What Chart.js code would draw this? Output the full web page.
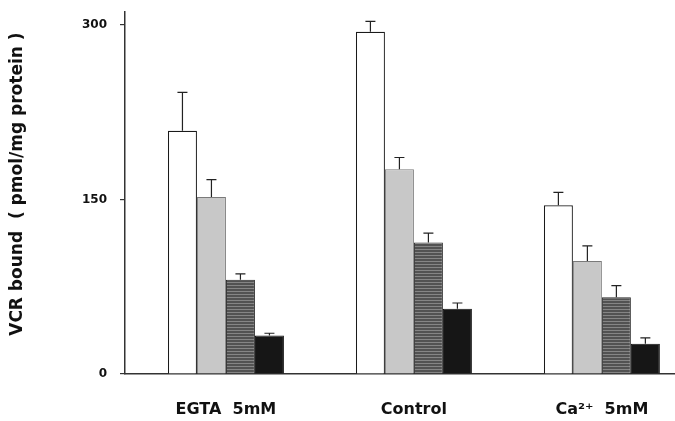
<!DOCTYPE html>
<html>
<head>
<meta charset="utf-8">
<script src="https://cdn.jsdelivr.net/npm/chart.js@4/dist/chart.umd.min.js"></script>
<style>
  html, body { margin: 0; padding: 0; background: #fff; }
  #wrap { width: 675px; height: 421px; }
</style>
</head>
<body>
<div id="wrap"><canvas id="myChart"></canvas></div>
<script>
// groups along the x axis
var categories = ['EGTA  5mM', 'Control', 'Ca\u00B2\u207A  5mM'];
var positions = [1, 2, 3];

// four bars per group, mean and upper error
var bar1 = [209, 294, 145];
var bar1Err = [33, 9, 11];
var bar2 = [152, 176, 97];
var bar2Err = [15, 10, 13];
var bar3 = [81, 113, 66];
var bar3Err = [5, 8, 10];
var bar4 = [33, 56, 26];
var bar4Err = [2, 5, 5];

var yTicks = [0, 150, 300];

function points(vals) {
  return vals.map(function (v, i) { return { x: positions[i], y: v }; });
}

// horizontal line hatch for the third bar
function hatch() {
  var c = document.createElement('canvas');
  c.width = 4; c.height = 3;
  var g = c.getContext('2d');
  g.fillStyle = '#525252';
  g.fillRect(0, 0, 4, 3);
  g.fillStyle = '#858585';
  g.fillRect(0, 0, 4, 1);
  return g.createPattern(c, 'repeat');
}

//******************* error bars *******************
var errorBars = {
  id: 'errorBars',
  afterDatasetsDraw: function (chart) {
    var ctx = chart.ctx;
    var y = chart.scales.y;
    ctx.save();
    ctx.strokeStyle = '#222';
    ctx.lineWidth = 1.2;
    chart.data.datasets.forEach(function (ds, d) {
      var meta = chart.getDatasetMeta(d);
      meta.data.forEach(function (bar, i) {
        var top = y.getPixelForValue(ds.data[i].y + ds.errors[i]);
        ctx.beginPath();
        ctx.moveTo(bar.x, bar.y);
        ctx.lineTo(bar.x, top);
        ctx.moveTo(bar.x - 5, top);
        ctx.lineTo(bar.x + 5, top);
        ctx.stroke();
      });
    });
    ctx.restore();
  }
};

var ctx = document.getElementById('myChart').getContext('2d');
var chart = new Chart(ctx, {
  type: 'bar',
  data: {
    datasets: [{
        data: points(bar1),
        errors: bar1Err,
        backgroundColor: '#ffffff',
        borderColor: '#1a1a1a',
        borderWidth: 1.2
      },
      {
        data: points(bar2),
        errors: bar2Err,
        backgroundColor: '#c8c8c8',
        borderColor: '#7a7a7a',
        borderWidth: 1
      },
      {
        data: points(bar3),
        errors: bar3Err,
        backgroundColor: hatch(),
        borderColor: '#2a2a2a',
        borderWidth: 1
      },
      {
        data: points(bar4),
        errors: bar4Err,
        backgroundColor: '#161616',
        borderColor: '#111',
        borderWidth: 1
      }
    ]
  },
  options: {
    responsive: true,
    maintainAspectRatio: false,
    animation: false,
    layout: { padding: { top: 12, right: 0, left: 0, bottom: 0 } },
    datasets: {
      bar: { categoryPercentage: 0.617, barPercentage: 1.0 }
    },
    plugins: {
      legend: { display: false },
      tooltip: { enabled: false }
    },
    scales: {
      x: {
        type: 'linear',
        offset: false,
        min: 0.463,
        max: 3.389,
        afterBuildTicks: function (s) {
          s.ticks = positions.map(function (p) { return { value: p }; });
        },
        afterFit: function (s) {
          s.height = 47;
          s.paddingLeft = 0;
          s.paddingRight = 0;
        },
        grid: { display: false, drawTicks: false, offset: false },
        border: { display: true, color: '#333', width: 1.5 },
        ticks: {
          padding: 26,
          color: '#111',
          font: { family: 'DejaVu Sans', size: 16, weight: 'bold' },
          callback: function (v) {
            var i = positions.indexOf(v);
            return i >= 0 ? categories[i] : '';
          }
        }
      },
      y: {
        min: 0,
        max: 311,
        afterBuildTicks: function (s) {
          s.ticks = yTicks.map(function (v) { return { value: v }; });
        },
        afterFit: function (s) {
          s.width = 125;
          s.paddingTop = 0;
          s.paddingBottom = 0;
        },
        grid: { drawOnChartArea: false, drawTicks: true, tickLength: 5, color: '#333', lineWidth: 1.2 },
        border: { display: true, color: '#333', width: 1.5 },
        ticks: {
          padding: 13,
          color: '#111',
          font: { family: 'DejaVu Sans', size: 12, weight: 'bold' }
        },
        title: {
          display: true,
          text: '   VCR bound  ( pmol/mg protein )',
          color: '#111',
          padding: { top: 7 },
          font: { family: 'DejaVu Sans', size: 17, weight: 'bold' }
        }
      }
    }
  },
  plugins: [errorBars]
});
</script>
</body>
</html>
